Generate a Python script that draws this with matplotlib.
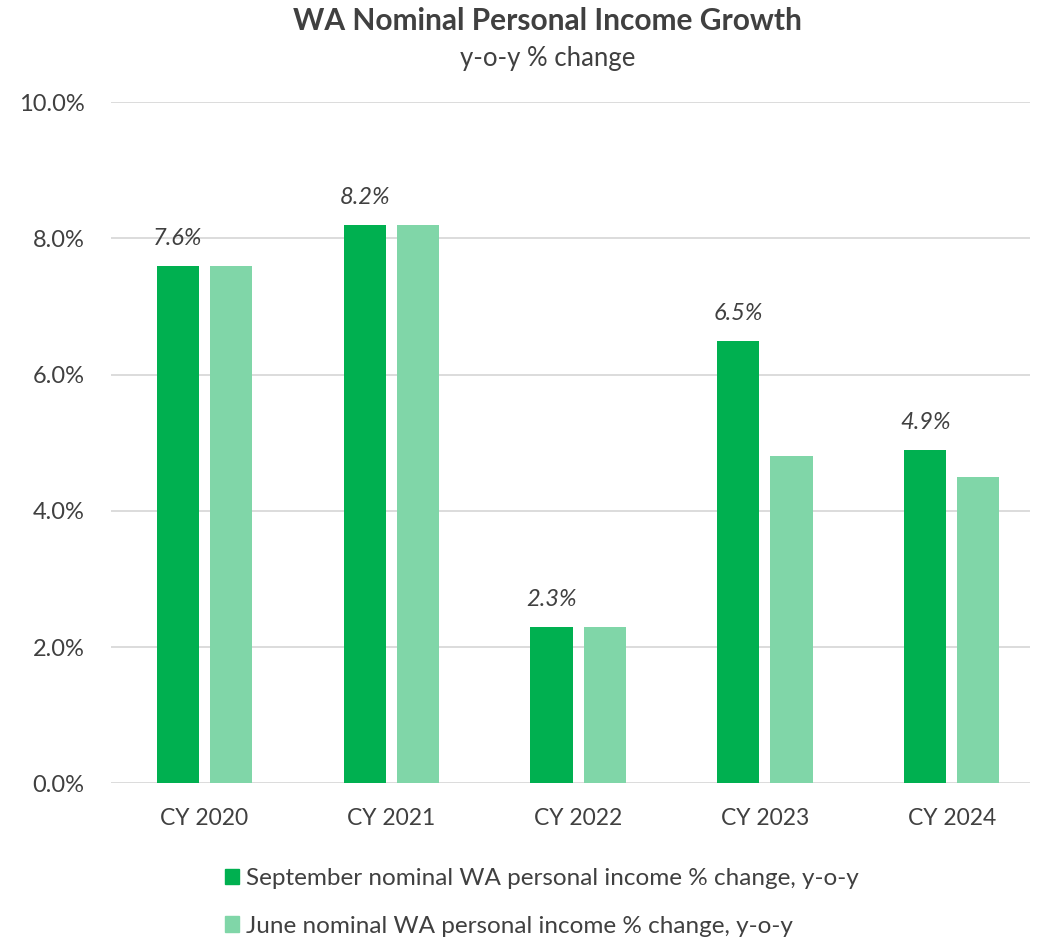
import numpy as np
import matplotlib.pyplot as plt
from matplotlib.ticker import PercentFormatter
from matplotlib.patches import Patch

plt.rcParams['font.family'] = ['Lato', 'DejaVu Sans']

years = ['CY 2020', 'CY 2021', 'CY 2022', 'CY 2023', 'CY 2024']
september = [7.6, 8.2, 2.3, 6.5, 4.9]
june = [7.6, 8.2, 2.3, 4.8, 4.5]
sep_name = 'September nominal WA personal income % change, y-o-y'
jun_name = 'June nominal WA personal income % change, y-o-y'

dark = '#00b050'
light = '#80d6a8'
txt = '#404040'

fig = plt.figure(figsize=(10.45, 9.38), dpi=100)
ax = fig.add_axes([0.106, 0.165, 0.880, 0.726])

x = np.arange(len(years))
w = 0.225
ax.bar(x - 0.142, september, w, color=dark, zorder=3)
ax.bar(x + 0.142, june, w, color=light, zorder=3)

for xi, v in zip(x, september):
    ax.text(xi - 0.142, v + 0.25, f'{v:.1f}%', ha='center', va='bottom',
            fontsize=17, style='italic', color=txt)

ax.set_xlim(-0.5, 4.42)
ax.set_ylim(0, 10)
ax.set_yticks([0, 2, 4, 6, 8, 10])
ax.yaxis.set_major_formatter(PercentFormatter(decimals=1))
ax.set_xticks(x)
ax.set_xticklabels(years)
ax.tick_params(axis='both', length=0, colors=txt)
ax.tick_params(axis='x', pad=18, labelsize=16.5)
ax.tick_params(axis='y', pad=19, labelsize=17)
ax.grid(axis='y', color='#d9d9d9', linewidth=1.3, zorder=0)
for s in ax.spines.values():
    s.set_visible(False)

fig.text(0.524, 0.978, 'WA Nominal Personal Income Growth', ha='center', va='center',
         fontsize=21.5, fontweight='bold', color=txt)
fig.text(0.524, 0.938, 'y-o-y % change', ha='center', va='center',
         fontsize=18.5, color=txt)

handles = [Patch(color=dark, label=sep_name), Patch(color=light, label=jun_name)]
fig.legend(handles=handles, loc='upper left', bbox_to_anchor=(0.194, 0.098),
           frameon=False, fontsize=17.5, labelcolor=txt, handlelength=0.6,
           handleheight=0.6, handletextpad=0.3, labelspacing=1.1)

fig.savefig('out.png', dpi=100)
